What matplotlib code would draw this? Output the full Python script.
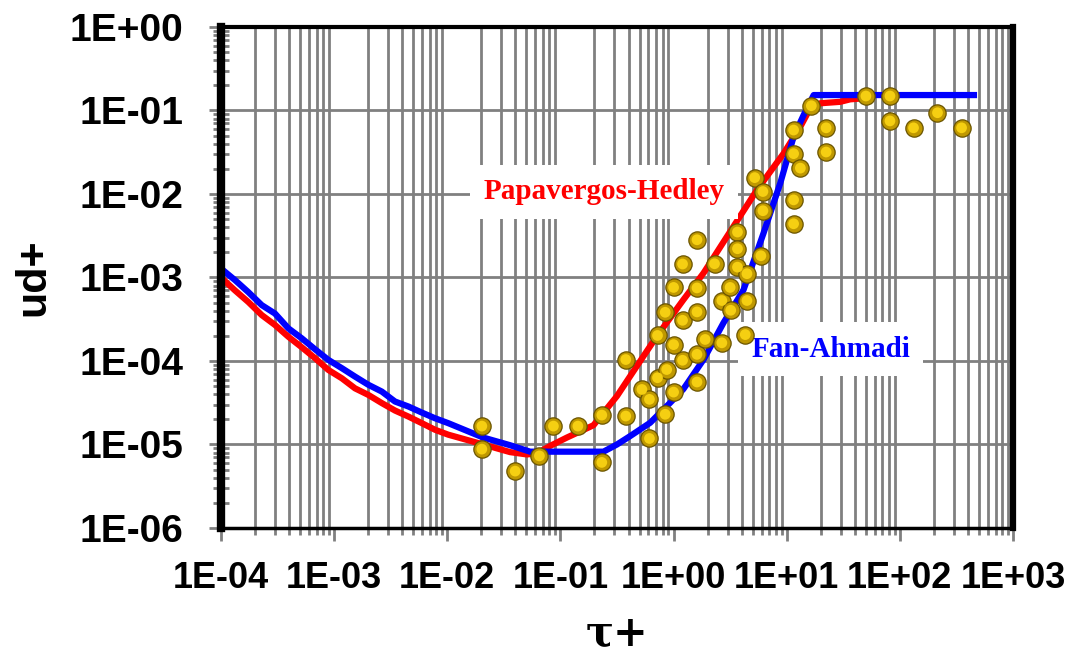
import numpy as np
import matplotlib
matplotlib.use("Agg")
import matplotlib.pyplot as plt
from matplotlib.font_manager import FontProperties
from matplotlib.ticker import LogLocator, FuncFormatter, NullFormatter

# Papavergos-Hedley correlation (red)
tau_ph = [1.0e-4, 1.33e-4, 1.74e-4, 2.29e-4, 3.0e-4, 3.94e-4, 5.17e-4, 6.78e-4,
          8.9e-4, 1.17e-3, 1.53e-3, 2.0e-3, 2.64e-3, 3.45e-3, 4.53e-3, 5.96e-3,
          7.8e-3, 1.02e-2, 2.08e-2, 3.59e-2, 5.05e-2, 6.18e-2, 8.1e-2, 0.114,
          0.196, 0.24, 0.316, 0.474, 0.711, 1.22, 1.84, 3.39, 5.46, 9.4,
          13.2, 16.1, 19.8, 29.7, 36.4, 44.7]
ud_ph = [1.0e-3, 7.0e-4, 5.1e-4, 3.55e-4, 2.7e-4, 1.95e-4, 1.46e-4, 1.08e-4,
         7.8e-5, 6.2e-5, 4.7e-5, 3.93e-5, 3.13e-5, 2.55e-5, 2.16e-5, 1.8e-5,
         1.5e-5, 1.31e-5, 1.0e-5, 8.1e-6, 7.6e-6, 7.8e-6, 9.6e-6, 1.21e-5,
         1.7e-5, 2.4e-5, 3.8e-5, 8.7e-5, 1.98e-4, 5.4e-4, 1.13e-3, 4.1e-3, 1.12e-2, 3.07e-2,
         0.064, 0.106, 0.122, 0.127, 0.136, 0.139]

# Fan-Ahmadi correlation (blue)
tau_fa = [1.0e-4, 1.33e-4, 1.74e-4, 2.29e-4, 3.0e-4, 3.94e-4, 5.17e-4, 6.78e-4,
          8.9e-4, 1.17e-3, 1.53e-3, 2.0e-3, 2.64e-3, 3.45e-3, 4.53e-3, 5.96e-3,
          7.8e-3, 1.02e-2, 2.08e-2, 3.59e-2, 5.4e-2, 0.24, 0.316, 0.413, 0.621,
          0.933, 1.22, 1.84, 2.76, 4.15, 6.24, 8.77, 11.5, 14.1, 17.3, 481]
ud_fa = [1.28e-3, 9.3e-4, 6.7e-4, 4.67e-4, 3.7e-4, 2.46e-4, 1.87e-4, 1.38e-4,
         1.03e-4, 8.2e-5, 6.5e-5, 5.2e-5, 4.3e-5, 3.27e-5, 2.85e-5, 2.41e-5,
         2.06e-5, 1.8e-5, 1.21e-5, 9.8e-6, 8.2e-6, 8.2e-6, 1.0e-5, 1.26e-5, 1.82e-5,
         3.16e-5, 4.6e-5, 1.04e-4, 2.86e-4, 7.1e-4, 3.4e-3, 1.35e-2, 0.0485, 0.088, 0.153, 0.153]

# experimental points
tau_exp = [0.0202, 0.0202, 0.0398, 0.0652, 0.0867, 0.1426, 0.232, 0.232, 0.378, 0.378,
           0.525, 0.612, 0.612, 0.721, 0.721, 0.843, 0.843, 0.869, 1.0, 1.0, 1.0,
           1.2, 1.2, 1.2, 1.61, 1.61, 1.61, 1.61, 1.61, 1.90, 2.30, 2.67, 2.67,
           3.16, 3.2, 3.67, 3.67, 3.67, 4.45, 4.45, 4.30, 5.21, 6.16, 6.16, 5.91,
           11.5, 13.2, 11.5, 11.5, 11.5, 16.5, 22.3, 22.3, 50.1, 81.7, 81.7, 132, 215, 351]
ud_exp = [1.66e-5, 8.8e-6, 4.8e-6, 7.3e-6, 1.66e-5, 1.66e-5, 2.25e-5, 6.1e-6, 1.04e-4, 2.19e-5,
          4.56e-5, 3.47e-5, 1.18e-5, 2.02e-4, 6.3e-5, 2.3e-5, 3.83e-4, 7.9e-5, 1.57e-4, 4.24e-5, 7.6e-4,
          1.45e-3, 3.07e-4, 1.02e-4, 2.83e-3, 7.5e-4, 3.87e-4, 1.2e-4, 5.6e-5, 1.81e-4, 1.46e-3, 5.3e-4, 1.65e-4,
          7.6e-4, 4.05e-4, 3.5e-3, 2.21e-3, 1.33e-3, 1.11e-3, 5.3e-4, 2.07e-4, 1.57e-2, 1.07e-2, 6.3e-3, 1.82e-3,
          3.04e-2, 2.04e-2, 5.83e-2, 8.5e-3, 4.4e-3, 0.114, 6.2e-2, 3.18e-2, 0.149, 0.149, 7.5e-2, 6.2e-2, 9.4e-2, 6.2e-2]

GREY = "#808080"

fig = plt.figure(figsize=(10.65, 6.58), dpi=100)
ax = fig.add_axes([0.2075, 0.1976, 0.7437, 0.7614])

ax.plot(tau_ph, ud_ph, color="#FF0000", lw=4.5, zorder=3, solid_capstyle="butt")
ax.plot(tau_fa, ud_fa, color="#0000FF", lw=4.5, zorder=3.5, solid_capstyle="butt")
ax.scatter(tau_exp, ud_exp, s=155, color="#BF9800", edgecolors="#6A5400",
           linewidths=0.9, zorder=5)
ax.scatter(tau_exp, ud_exp, s=60, color="#F5CF12", edgecolors="none", zorder=6)

ax.set_xscale("log")
ax.set_yscale("log")
ax.set_xlim(1e-4, 1e3)
ax.set_ylim(1e-6, 1e0)

ax.xaxis.set_major_locator(LogLocator(base=10, numticks=20))
ax.yaxis.set_major_locator(LogLocator(base=10, numticks=20))
ax.xaxis.set_minor_locator(LogLocator(base=10, subs=np.arange(2, 10), numticks=20))
ax.yaxis.set_minor_locator(LogLocator(base=10, subs=np.arange(2, 10), numticks=20))


def sci_label(v, pos):
    e = int(round(np.log10(v)))
    return f"1E{e:+03d}"


ax.xaxis.set_major_formatter(FuncFormatter(sci_label))
ax.yaxis.set_major_formatter(FuncFormatter(sci_label))
ax.xaxis.set_minor_formatter(NullFormatter())
ax.yaxis.set_minor_formatter(NullFormatter())

ax.grid(False)
ax.set_axisbelow(True)
ax.yaxis.grid(True, which="major", color=GREY, lw=2.0)
ax.xaxis.grid(True, which="minor", color=GREY, lw=2.0)

for lab in ax.get_yticklabels():
    lab.set_fontproperties(FontProperties(family="Liberation Sans", weight="bold", size=28))
for lab in ax.get_xticklabels():
    lab.set_fontproperties(FontProperties(family="Liberation Sans", weight="bold", size=26))

ax.tick_params(axis="x", which="major", direction="out", length=9, width=2,
               color=GREY, pad=15)
ax.tick_params(axis="x", which="minor", direction="out", length=5, width=2, color=GREY)
ax.tick_params(axis="y", which="major", direction="out", length=9, width=2,
               color=GREY, pad=18)
ax.tick_params(axis="y", which="minor", direction="inout", length=11, width=2, color=GREY)

ax.spines["left"].set_linewidth(6)
ax.spines["right"].set_linewidth(4.5)
ax.spines["top"].set_linewidth(3)
ax.spines["bottom"].set_linewidth(2.5)
for s in ax.spines.values():
    s.set_color("black")
    s.set_zorder(7)

ax.set_xlabel("τ+", fontsize=30, fontweight="bold", family="DejaVu Serif", labelpad=12)
ax.set_ylabel("ud+", fontsize=31, fontweight="bold", family="Liberation Sans", labelpad=12)

ax.text(0.4836, 0.6707, "Papavergos-Hedley", transform=ax.transAxes, ha="center",
        va="center", color="#FF0000", fontsize=21, fontweight="bold",
        family="Liberation Serif", zorder=4,
        bbox=dict(boxstyle="square,pad=0.45", fc="white", ec="none"))
ax.text(0.770, 0.357, "Fan-Ahmadi", transform=ax.transAxes, ha="center",
        va="center", color="#0000FF", fontsize=21, fontweight="bold",
        family="Liberation Serif", zorder=4,
        bbox=dict(boxstyle="square,pad=0.45", fc="white", ec="none"))

fig.savefig("out.png", dpi=100)
